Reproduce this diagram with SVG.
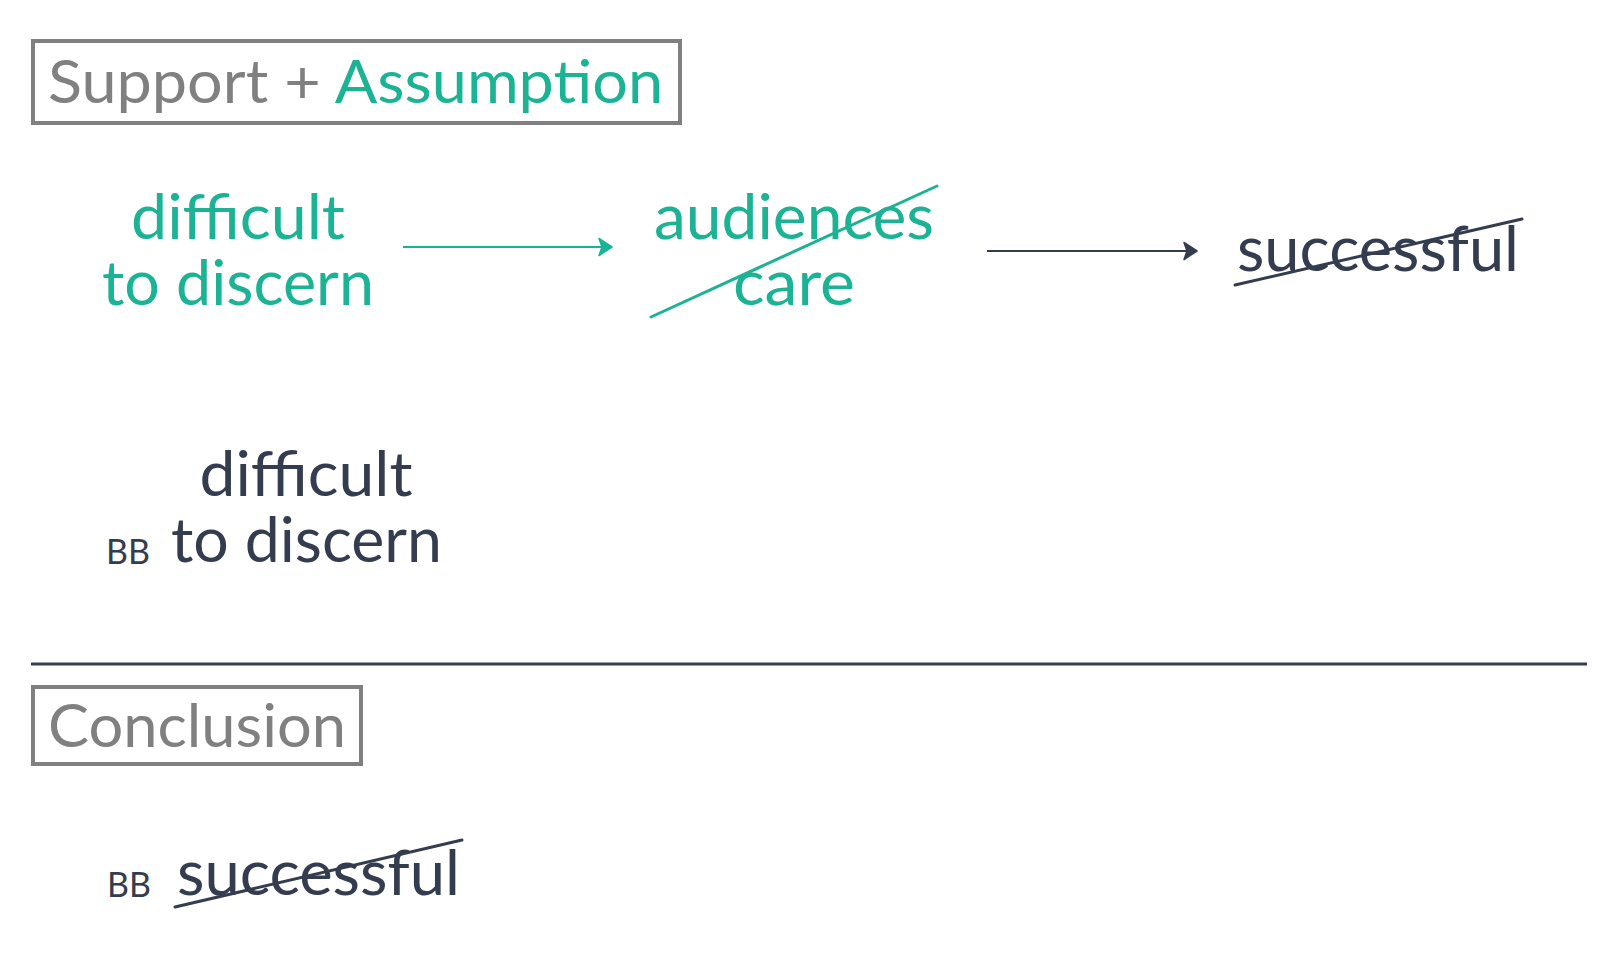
<svg xmlns="http://www.w3.org/2000/svg" width="1614" height="967" viewBox="0 0 1614 967">
<style>
text{font-family:Lato,"Open Sans","Liberation Sans",sans-serif;}
.t{fill:#1bb394;font-size:62px;}
.d{fill:#343d4f;font-size:62px;}
.g{fill:#808080;font-size:60px;}
.bb{fill:#343d4f;font-size:34px;}
.box{fill:none;stroke:#808080;stroke-width:4;}
.st{stroke:#1bb394;stroke-width:3;fill:none;stroke-linecap:round;}
.sd{stroke:#343d4f;stroke-width:3;fill:none;stroke-linecap:round;}
</style>
<defs>
<marker id="at" viewBox="0 0 16 20" markerWidth="16" markerHeight="20" refX="15" refY="10" orient="auto" markerUnits="userSpaceOnUse">
<path d="M2,1.5 L15,10 L2,18.5 L5,10 Z" fill="#1bb394" stroke="#1bb394" stroke-width="1.5" stroke-linejoin="round"/>
</marker>
<marker id="ad" viewBox="0 0 16 20" markerWidth="16" markerHeight="20" refX="15" refY="10" orient="auto" markerUnits="userSpaceOnUse">
<path d="M2,1.5 L15,10 L2,18.5 L5,10 Z" fill="#343d4f" stroke="#343d4f" stroke-width="1.5" stroke-linejoin="round"/>
</marker>
</defs>
<rect width="1614" height="967" fill="#fff"/>
<g id="header-support">
<rect class="box" x="33" y="41" width="647" height="82"/>
<text x="48" y="103" class="g" textLength="615" lengthAdjust="spacingAndGlyphs">Support + <tspan fill="#1bb394">Assumption</tspan></text>
</g>
<g id="node-difficult-teal">
<text class="t" x="238" y="239" text-anchor="middle" textLength="214" lengthAdjust="spacingAndGlyphs">difficult</text>
<text class="t" x="238" y="305" text-anchor="middle" textLength="272" lengthAdjust="spacingAndGlyphs">to discern</text>
</g>
<g id="node-audiences">
<text class="t" x="794" y="239" text-anchor="middle" textLength="280" lengthAdjust="spacingAndGlyphs">audiences</text>
<text class="t" x="794" y="305" text-anchor="middle" textLength="122" lengthAdjust="spacingAndGlyphs">care</text>
<line class="st" x1="651" y1="317" x2="937" y2="186"/>
</g>
<g id="node-successful-top">
<text class="d" x="1237" y="271" textLength="282" lengthAdjust="spacingAndGlyphs">successful</text>
<line class="sd" x1="1235" y1="285" x2="1522" y2="219"/>
</g>
<g id="node-difficult-dark">
<text class="d" x="306" y="496" text-anchor="middle" textLength="213" lengthAdjust="spacingAndGlyphs">difficult</text>
<text class="bb" x="106" y="564">BB</text>
<text class="d" x="171" y="562" textLength="271" lengthAdjust="spacingAndGlyphs">to discern</text>
</g>
<line x1="31" y1="664" x2="1587" y2="664" stroke="#343d4f" stroke-width="3"/>
<g id="header-conclusion">
<rect class="box" x="33" y="687" width="328" height="77"/>
<text class="g" x="48" y="747" textLength="298" lengthAdjust="spacingAndGlyphs">Conclusion</text>
</g>
<g id="node-successful-bottom">
<text class="bb" x="107" y="897">BB</text>
<text class="d" x="177" y="895" textLength="283" lengthAdjust="spacingAndGlyphs">successful</text>
<line class="sd" x1="175" y1="907" x2="462" y2="840"/>
</g>
<g id="connectors">
<line x1="403" y1="247" x2="612" y2="247" stroke="#1bb394" stroke-width="2" marker-end="url(#at)"/>
<line x1="987" y1="251" x2="1197" y2="251" stroke="#343d4f" stroke-width="2" marker-end="url(#ad)"/>
</g>
</svg>
